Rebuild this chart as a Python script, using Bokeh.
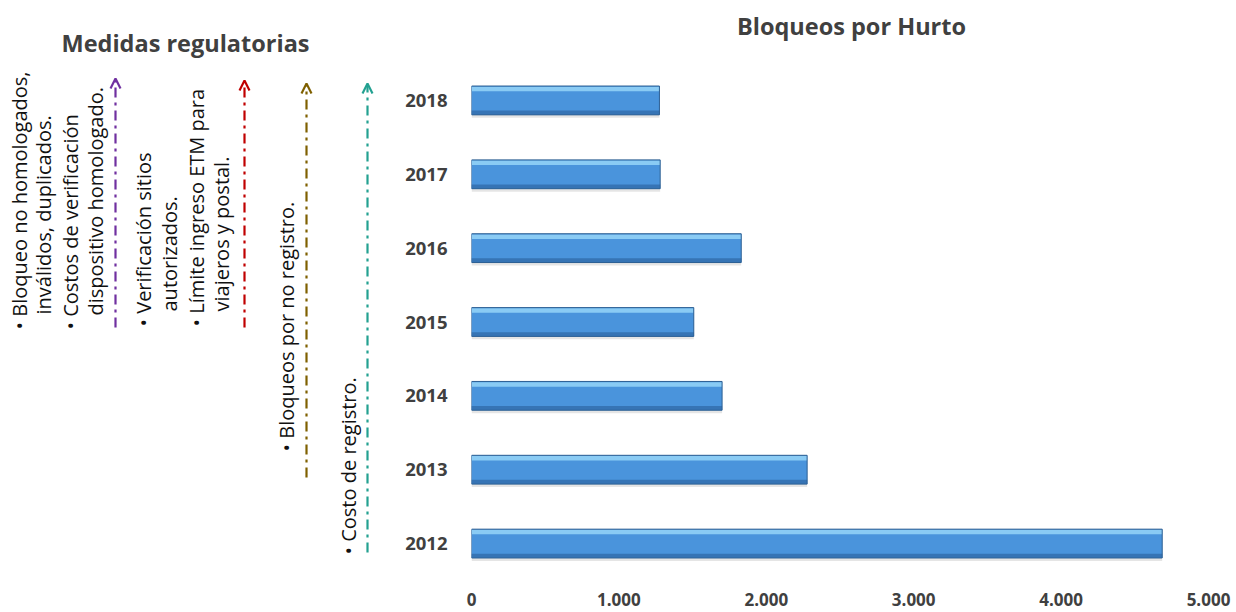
import numpy as np
from bokeh.plotting import figure
from bokeh.models import Range1d, FactorRange, FixedTicker, Arrow, OpenHead, ColumnDataSource
from bokeh.transform import dodge
from bokeh.layouts import row, column
from bokeh.embed import file_html
from bokeh.resources import INLINE
from bokeh.core.properties import value

# ---------------- data ----------------
years = ["2012", "2013", "2014", "2015", "2016", "2017", "2018"]
bloqueos = [4686, 2277, 1700, 1508, 1830, 1280, 1275]
x_ticks = [0, 1000, 2000, 3000, 4000, 5000]
x_tick_labels = ["0", "1.000", "2.000", "3.000", "4.000", "5.000"]

left_title = "Medidas regulatorias"
chart_title = "Bloqueos por Hurto"

measure_lines = [
    "• Bloqueo no homologados,",
    "inválidos, duplicados.",
    "• Costos de verificación",
    "dispositivo homologado.",
    "• Verificación sitios",
    "autorizados.",
    "• Límite ingreso ETM para",
    "viajeros y postal.",
    "• Bloqueos por no registro.",
    "• Costo de registro.",
]
arrow_colors = ["#7030A0", "#C00000", "#7F6000", "#23A191"]

# ---------------- layout (pixel positions) ----------------
W, H = 1236, 612
TOP = 63
W_L = 396
W_R = W - W_L
line_x = [19, 43, 70, 95, 143, 169, 196, 221, 286, 348]
line_y = [329, 314, 329, 315, 326, 311, 326, 311, 451, 554]
arrow_x = [115, 244, 306, 367]
arrow_y0 = [327, 327, 477, 552]
arrow_y1 = [78, 80, 83, 83]

# ---------------- top strip with both titles ----------------
top = figure(width=W, height=TOP, x_range=Range1d(0, W), y_range=Range1d(TOP, 0),
             x_axis_type=None, y_axis_type=None, toolbar_location=None,
             output_backend="svg", min_border=0, outline_line_color=None)
top.frame_align = False
top.grid.visible = False
top.text(x=[185, 851], y=[42, 25], text=[left_title, chart_title], text_align="center",
         text_baseline="middle", text_font=value("Open Sans"), text_font_style="bold",
         text_font_size="23.5px", text_color="#404040")

# ---------------- left annotations ----------------
left = figure(width=W_L, height=H - TOP, x_range=Range1d(0, W_L), y_range=Range1d(H, TOP),
              x_axis_type=None, y_axis_type=None, toolbar_location=None,
              output_backend="svg", min_border=0, outline_line_color=None)
left.frame_align = False
left.grid.visible = False

tsrc = ColumnDataSource(dict(x=line_x, y=line_y, t=measure_lines))
left.text(x="x", y="y", text="t", source=tsrc, angle=np.pi / 2, text_align="left",
          text_baseline="middle", text_font=value("Open Sans"), text_font_size="20px",
          text_color="#111111")

for xa, y0, y1, c in zip(arrow_x, arrow_y0, arrow_y1, arrow_colors):
    left.add_layout(Arrow(x_start=xa, y_start=y0, x_end=xa, y_end=y1,
                          line_color=c, line_width=2.2, line_dash="10 5 3 5",
                          end=OpenHead(size=10, line_color=c, line_width=2.2)))

# ---------------- bar chart ----------------
p = figure(width=W_R, height=H - TOP, y_range=FactorRange(*years), x_range=Range1d(0, 5000),
           toolbar_location=None, output_backend="svg",
           min_border_left=75, min_border_right=28, min_border_top=0, min_border_bottom=32)
p.frame_align = False

src = ColumnDataSource(dict(year=years, val=bloqueos))
bh = 0.39
p.hbar(y=dodge("year", -0.04, range=p.y_range), left=0, right="val", height=bh,
       fill_color="#000000", fill_alpha=0.10, line_color=None, source=src)
p.hbar(y="year", left=0, right="val", height=bh, fill_color="#4A94DC", line_color=None, source=src)
p.hbar(y=dodge("year", 0.155, range=p.y_range), left=0, right="val", height=0.06,
       fill_color="#8ACBF4", line_color=None, source=src)
p.hbar(y=dodge("year", -0.165, range=p.y_range), left=0, right="val", height=0.055,
       fill_color="#3674B5", line_color=None, source=src)
p.hbar(y="year", left=0, right="val", height=bh, fill_color=None, line_color="#2C5F93",
       line_width=1, source=src)

p.xaxis.ticker = FixedTicker(ticks=x_ticks)
p.xaxis.major_label_overrides = {t: l for t, l in zip(x_ticks, x_tick_labels)}
p.axis.axis_line_color = None
p.axis.major_tick_line_color = None
p.axis.minor_tick_line_color = None
p.axis.major_label_text_font = "Open Sans"
p.axis.major_label_text_font_style = "bold"
p.axis.major_label_text_color = "#404040"
p.xaxis.major_label_text_font_size = "17px"
p.yaxis.major_label_text_font_size = "18.5px"
p.yaxis.major_label_standoff = 18
p.xaxis.major_label_standoff = 6
p.grid.visible = False
p.outline_line_color = None

layout = column(top, row(left, p))
open("out.html", "w").write(file_html(layout, INLINE))
